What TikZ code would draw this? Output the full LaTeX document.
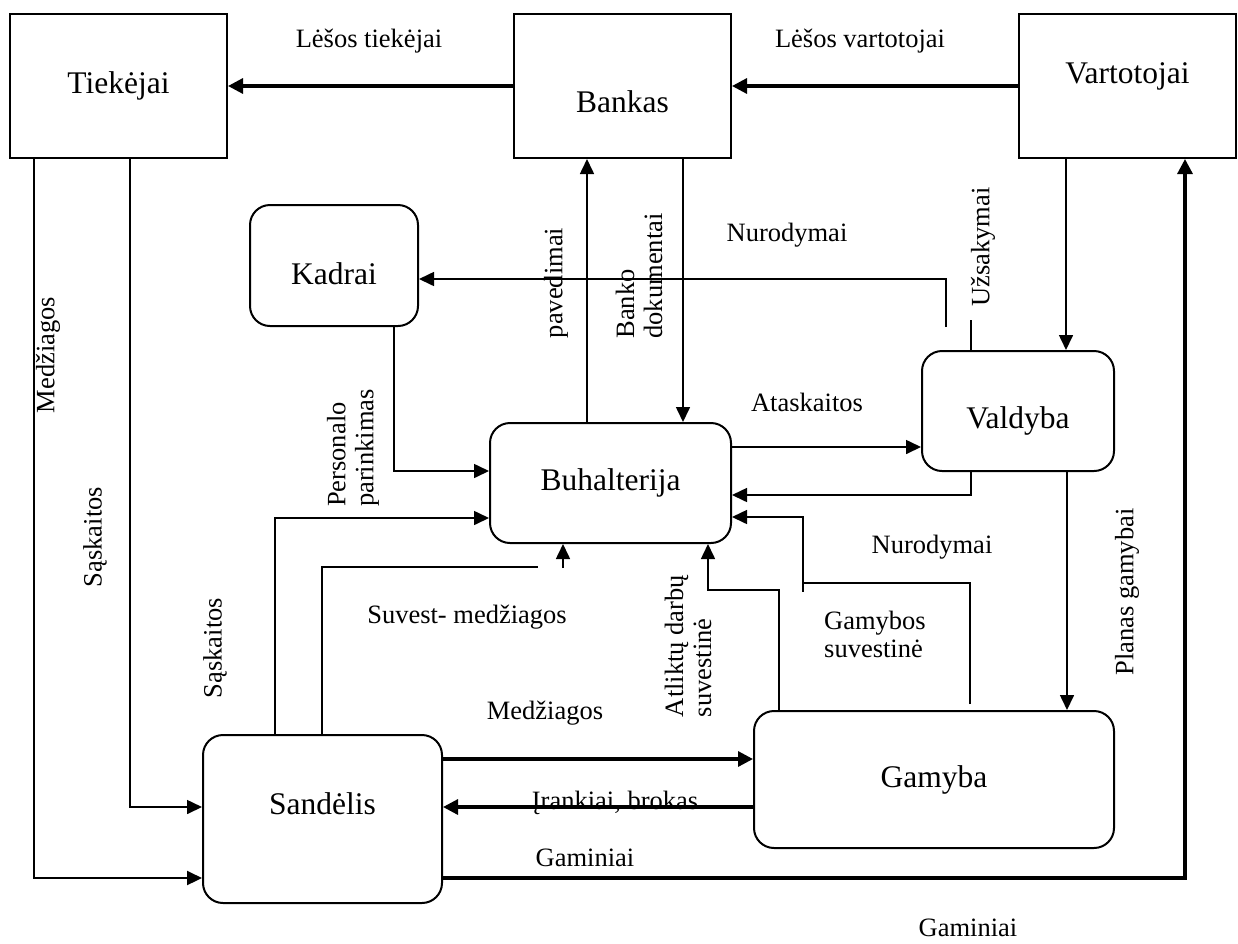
\documentclass[tikz,border=0pt]{standalone}
\usepackage{fontspec}
\setmainfont{Liberation Serif}
\usetikzlibrary{positioning,arrows.meta}

\begin{document}
\begin{tikzpicture}[
  x=1pt, y=-1pt,
  sq/.style={draw, line width=2pt, inner sep=0pt, font=\fontsize{31.5}{34}\selectfont},
  rbox/.style={sq, rounded corners=20pt},
  lbl/.style={inner sep=0pt, font=\fontsize{26.5}{28}\selectfont},
  vlbl/.style={lbl, rotate=90, align=left},
  ln/.style={line width=1.6pt},
  arr/.style={-{Triangle[length=15pt,width=14pt]}, line width=1.6pt},
  tarr/.style={-{Triangle[length=15pt,width=15pt]}, line width=3.2pt}
]
\useasboundingbox (0,0) rectangle (1238,943);

% outside
\node[sq, minimum width=217, minimum height=144] (tiek) at (118.5,86) {Tiekėjai};
\node[sq, minimum width=217, minimum height=144, label={[font=\fontsize{31.5}{34}\selectfont, yshift=-16]center:Bankas}] (bank) at (622.5,86) {};
\node[sq, minimum width=217, minimum height=144, label={[font=\fontsize{31.5}{34}\selectfont, yshift=10]center:Vartotojai}] (vart) at (1127.5,86) {};

% inside
\node[rbox, minimum width=168, minimum height=121, label={[font=\fontsize{31.5}{34}\selectfont, yshift=-8]center:Kadrai}] (kadr) at (334,265.5) {};
\node[rbox, minimum width=241, minimum height=120] (buh) at (610.5,483) {Buhalterija};
\node[rbox, minimum width=192, minimum height=120, label={[font=\fontsize{31.5}{34}\selectfont, yshift=-10]center:Valdyba}] (vald) at (1018,411) {};
\node[rbox, minimum width=239, minimum height=168, label={[font=\fontsize{31.5}{34}\selectfont, yshift=15]center:Sandėlis}] (sand) at (322.5,819) {};
\node[rbox, minimum width=360, minimum height=137] (gam) at (934,779.5) {Gamyba};

% free ends
\coordinate (nurend) at (946,327);
\coordinate (ustub) at (971,320);
\coordinate (gnur) at (970,704);
\coordinate (nurc) at (803,583);
\coordinate (svend) at (538,567);
\coordinate (svarr) at (563,568);

% money
\draw[tarr] (bank.west) -- (tiek.east);
\draw[tarr] (vart.west) -- (bank.east);
\draw[tarr] ([yshift=-59]sand.east) -| ([xshift=57.5]vart.south);

% suppliers
\draw[arr, line width=2.2pt] ([xshift=-84.5]tiek.south) |- ([yshift=-59]sand.west);
\draw[arr] ([xshift=11.5]tiek.south) |- ([yshift=12]sand.west);

% bank
\draw[arr] ([xshift=-23.5]buh.north) -- ([xshift=-35.5]bank.south);
\draw[arr] ([xshift=60.5]bank.south) -- ([xshift=72.5]buh.north);

% management
\draw[arr] (nurend) |- ([yshift=-13.5]kadr.east);
\draw[ln] ([xshift=-47]vald.north) -- (ustub);
\draw[arr] ([xshift=-61.5]vart.south) -- ([xshift=48]vald.north);
\draw[arr] ([xshift=49]vald.south) -- ([xshift=133]gam.north);
\draw[arr] ([yshift=36]buh.east) -- ([yshift=-36]vald.west);
\draw[arr] ([xshift=-47]vald.south) |- ([yshift=-12]buh.east);

% production
\draw[arr] (gnur) |- (nurc) |- ([yshift=-34]buh.east);
\draw[ln] (nurc) -- ++(0,9);
\draw[arr] ([xshift=-155]gam.north) -- ++(0,-120) -| ([xshift=97.5]buh.south);
\draw[tarr] ([yshift=60]sand.east) -- ([yshift=20.5]gam.west);
\draw[tarr] ([yshift=-27.5]gam.west) -- ([yshift=12]sand.east);

% warehouse, staff
\draw[arr] ([xshift=-47.5]sand.north) |- ([yshift=-35]buh.west);
\draw[arr] ([xshift=60]kadr.south) |- ([yshift=12]buh.west);
\draw[ln] ([xshift=-0.5]sand.north) |- (svend);
\draw[arr] (svarr) -- (svarr |- buh.south);

% labels
\node[lbl] (lt) at (369,41) {Lėšos tiekėjai};
\node[lbl] (lv) at (860,41) {Lėšos vartotojai};
\node[vlbl] (medz1) at (48,355) {Medžiagos};
\node[vlbl] (sask1) at (95,537) {Sąskaitos};
\node[vlbl] (pav) at (556,283) {pavedimai};
\node[vlbl] (banko) at (639,276) {Banko\\dokumentai};
\node[lbl] (nur1) at (787,235) {Nurodymai};
\node[vlbl] (uzs) at (983,247) {Užsakymai};
\node[vlbl] (pers) at (353,448) {Personalo\\parinkimas};
\node[lbl] (atask) at (807,402) {Ataskaitos};
\node[lbl] (nur2) at (932,547) {Nurodymai};
\node[lbl, align=left] (gamsuv) at (875,634) {Gamybos\\suvestinė};
\node[vlbl] (atl) at (688,646) {Atliktų darbų\\suvestinė};
\node[vlbl] (plan) at (1127,592) {Planas gamybai};
\node[vlbl] (sask2) at (215,648) {Sąskaitos};
\node[lbl] (suv) at (467,617) {Suvest- medžiagos};
\node[lbl] (medz2) at (545,713) {Medžiagos};
\node[lbl] (irank) at (615,803) {Įrankiai, brokas};
\node[lbl] (gamin1) at (585,858) {Gaminiai};
\node[lbl] (gamin2) at (968,928) {Gaminiai};
\end{tikzpicture}
\end{document}
